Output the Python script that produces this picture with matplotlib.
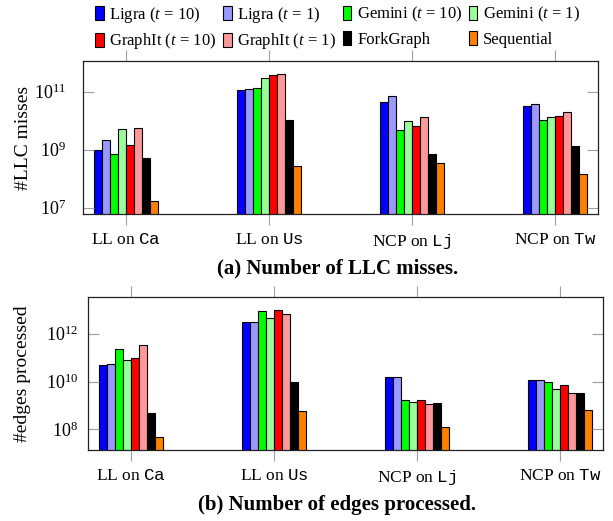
import matplotlib.pyplot as plt
import numpy as np

plt.rcParams["font.family"] = ["Liberation Serif", "DejaVu Serif"]
plt.rcParams["mathtext.fontset"] = "custom"
plt.rcParams["mathtext.rm"] = "Liberation Serif"
plt.rcParams["mathtext.it"] = "Liberation Serif:italic"
plt.rcParams["mathtext.bf"] = "Liberation Serif:bold"
plt.rcParams["mathtext.tt"] = "Liberation Mono"

groups = [r"LL on $\mathtt{Ca}$", r"LL on $\mathtt{Us}$", r"NCP on $\mathtt{Lj}$", r"NCP on $\mathtt{Tw}$"]
systems = [
    r"Ligra ($t$ = 10)", r"Ligra ($t$ = 1)", r"Gemini ($t$ = 10)", r"Gemini ($t$ = 1)",
    r"GraphIt ($t$ = 10)", r"GraphIt ($t$ = 1)", "ForkGraph", "Sequential",
]
colors = ["#0000ff", "#9999ff", "#00ff00", "#99ff99", "#ff0000", "#ff9999", "#000000", "#ff8000"]

# LLC misses, per system, per workload (Ca, Us, Lj, Tw)
llc_ligra10 = [9.5e8, 1.17e11, 4.3e10, 3.3e10]
llc_ligra1 = [2.1e9, 1.26e11, 7.1e10, 3.9e10]
llc_gemini10 = [7.2e8, 1.32e11, 4.6e9, 1.07e10]
llc_gemini1 = [5.0e9, 2.95e11, 9.8e9, 1.32e10]
llc_graphit10 = [1.45e9, 3.7e11, 6.6e9, 1.45e10]
llc_graphit1 = [5.8e9, 4.1e11, 1.29e10, 1.95e10]
llc_forkgraph = [5.2e8, 1.07e10, 7.2e8, 1.38e9]
llc_sequential = [1.7e7, 2.8e8, 3.5e8, 1.45e8]

# edges processed
edges_ligra10 = [5.1e10, 2.95e12, 1.62e10, 1.2e10]
edges_ligra1 = [5.5e10, 2.95e12, 1.62e10, 1.2e10]
edges_gemini10 = [2.2e11, 8.5e12, 1.62e9, 9.5e9]
edges_gemini1 = [7.8e10, 4.4e12, 1.41e9, 4.8e9]
edges_graphit10 = [1.0e11, 9.8e12, 1.66e9, 7.1e9]
edges_graphit1 = [3.3e11, 6.6e12, 1.2e9, 3.4e9]
edges_forkgraph = [4.9e8, 9.5e9, 1.23e9, 3.2e9]
edges_sequential = [4.7e7, 5.6e8, 1.32e8, 6.3e8]

llc = [llc_ligra10, llc_ligra1, llc_gemini10, llc_gemini1,
       llc_graphit10, llc_graphit1, llc_forkgraph, llc_sequential]
edges = [edges_ligra10, edges_ligra1, edges_gemini10, edges_gemini1,
         edges_graphit10, edges_graphit1, edges_forkgraph, edges_sequential]


def draw_panel(ax, series, ylabel, ylim, yticks, ypad):
    x = np.arange(len(groups))
    width = 0.056
    for i, vals in enumerate(series):
        ax.bar(x + (i - 3.5) * width, vals, width, color=colors[i],
               edgecolor="black", linewidth=0.8, label=systems[i])
    ax.set_yscale("log")
    ax.set_ylim(*ylim)
    ax.set_yticks(yticks)
    ax.minorticks_off()
    ax.set_xlim(-0.3, 3.3)
    ax.set_xticks(x)
    ax.set_xticklabels(groups, fontsize=12.5)
    ax.tick_params(axis="x", direction="out", length=8, width=0.8, color="#a0a0a0",
                   top=True, pad=5)
    ax.tick_params(axis="y", direction="in", length=8, width=0.8, color="#a0a0a0",
                   right=True, labelsize=13, pad=ypad)
    for sp in ax.spines.values():
        sp.set_color("#222222")
        sp.set_linewidth(0.9)
    ax.set_ylabel(ylabel, fontsize=14)


fig = plt.figure(figsize=(6.13, 5.21), dpi=100)
ax1 = fig.add_axes([0.1354, 0.5893, 0.8401, 0.2936])
ax2 = fig.add_axes([0.143, 0.1363, 0.841, 0.2931])

draw_panel(ax1, llc, "#LLC misses", (10 ** 6.78, 10 ** 12.06), [1e7, 1e9, 1e11], 12)
draw_panel(ax2, edges, "#edges processed", (10 ** 7.14, 10 ** 13.52), [1e8, 1e10, 1e12], 7)
ax1.yaxis.set_label_coords(-0.1, 0.5)
ax2.yaxis.set_label_coords(-0.11, 0.5)

fig.text(0.55, 1 - 268 / 521, "(a) Number of LLC misses.", ha="center", va="center",
         fontsize=15, fontweight="bold")
fig.text(0.55, 1 - 505 / 521, "(b) Number of edges processed.", ha="center", va="center",
         fontsize=15, fontweight="bold")

# legend fills row by row in the reference
handles, labels = ax1.get_legend_handles_labels()
order = [0, 4, 1, 5, 2, 6, 3, 7]
fig.legend([handles[i] for i in order], [labels[i] for i in order],
           loc="upper center", bbox_to_anchor=(0.551, 1.01), ncol=4,
           frameon=False, fontsize=12, handlelength=0.5, handleheight=0.9,
           handletextpad=0.35, columnspacing=0.4, labelspacing=0.4, borderaxespad=0.2)

fig.savefig("out.png", dpi=100)
